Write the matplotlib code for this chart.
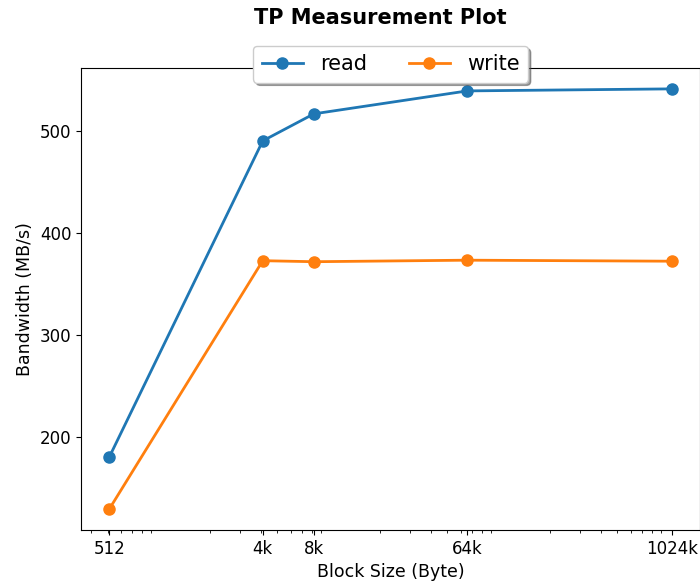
import numpy as np
import matplotlib
matplotlib.use("Agg")
import matplotlib.pyplot as plt

# block sizes in bytes and measured throughput (MB/s)
block_sizes = [512, 4096, 8192, 65536, 1048576]
block_labels = ["512", "4k", "8k", "64k", "1024k"]
read_bw = [180.5, 490.5, 517.0, 539.5, 541.5]
write_bw = [129.5, 373.0, 372.0, 373.5, 372.5]

fig = plt.figure(figsize=(7, 5.85), dpi=100)
ax = fig.add_axes([0.116, 0.094, 0.884, 0.790])

ax.plot(block_sizes, read_bw, "-o", color="#1f77b4", lw=2, ms=8, label="read")
ax.plot(block_sizes, write_bw, "-o", color="#ff7f0e", lw=2, ms=8, label="write")

ax.set_xscale("log")
ax.set_xticks(block_sizes)
ax.set_xticklabels(block_labels)
ax.tick_params(labelsize=12)

ax.set_xlabel("Block Size (Byte)", fontsize=12.5)
ax.set_ylabel("Bandwidth (MB/s)", fontsize=12.5)
fig.text(0.544, 0.97, "TP Measurement Plot", fontsize=15, fontweight="bold",
         ha="center", va="center")

ax.legend(loc="upper center", bbox_to_anchor=(0.5, 1.07), ncol=2,
          fancybox=True, shadow=True, fontsize=15)

fig.savefig("out.png")
